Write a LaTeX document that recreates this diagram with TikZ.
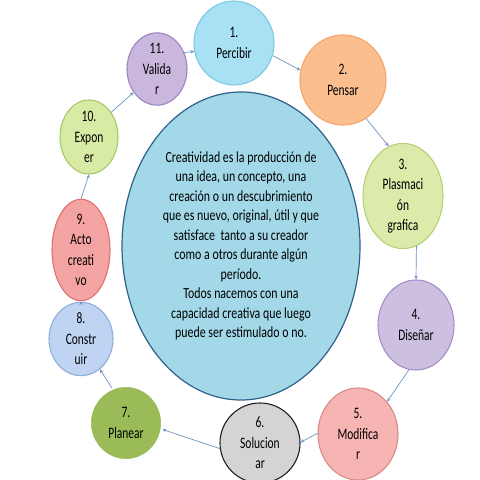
\documentclass[tikz,border=0pt]{standalone}
\usepackage{fontspec}
\setmainfont{Carlito}
\newfontfamily\textoalto[FakeStretch=0.77]{Carlito}
\newfontfamily\etapaalta[FakeStretch=0.72]{Carlito}
\usetikzlibrary{shapes.geometric,shadows}
\definecolor{flecha}{HTML}{6F93C0}
\definecolor{centro}{HTML}{A3D8E8}
\definecolor{bordecentro}{HTML}{2F5F8A}
\definecolor{celeste}{HTML}{A7E1F3}   \definecolor{bceleste}{HTML}{7FC9E3}
\definecolor{naranja}{HTML}{FBBF8F}   \definecolor{bnaranja}{HTML}{F5A46A}
\definecolor{limon}{HTML}{DCEBAA}     \definecolor{blimon}{HTML}{B5CF7A}
\definecolor{lila}{HTML}{CDBFE0}      \definecolor{blila}{HTML}{A48EC4}
\definecolor{rosa}{HTML}{F6B4B2}      \definecolor{brosa}{HTML}{D88A88}
\definecolor{gris}{HTML}{D4D4D4}      \definecolor{bgris}{HTML}{202020}
\definecolor{oliva}{HTML}{9BBB59}
\definecolor{azulito}{HTML}{BFD4F2}   \definecolor{bazulito}{HTML}{8EAEDC}
\definecolor{coral}{HTML}{F3A3A1}     \definecolor{bcoral}{HTML}{E07070}
\definecolor{verdecito}{HTML}{D8EBA5} \definecolor{bverdecito}{HTML}{A8C86A}
\definecolor{violeta}{HTML}{C9B7DD}   \definecolor{bvioleta}{HTML}{9E86C0}
\begin{document}
\begin{tikzpicture}[x=1bp, y=-1bp,
    etapa/.style={ellipse, inner sep=0pt, line width=1.1bp, align=center,
        font=\etapaalta\fontsize{16}{20.5}\selectfont},
    flechita/.style={->, >=stealth, color=flecha, line width=0.7bp}]
        \useasboundingbox (0,0) rectangle (480,480);

        \node[ellipse, draw=bordecentro, fill=centro, line width=1.2bp,
            minimum width=238bp, minimum height=308bp, align=center,
            font=\textoalto\fontsize{15.5}{19.6}\selectfont] (idea) at (241,246)
            {Creatividad es la producción de\\una idea, un concepto, una\\creación o un descubrimiento\\que es nuevo, original, útil y que\\satisface\ \ tanto a su creador\\como a otros durante algún\\período.\\Todos nacemos con una\\capacidad creativa que luego\\puede ser estimulado o no.};

        \node[etapa, draw=bceleste, fill=celeste, minimum width=80bp, minimum height=84bp] (percibir) at (234,43) {1.\\Percibir};
        \node[etapa, draw=bnaranja, fill=naranja, minimum width=86bp, minimum height=90bp] (pensar) at (343,80) {2.\\Pensar};
        \node[etapa, draw=blimon, fill=limon, minimum width=80bp, minimum height=94bp] (plasmar) at (403,196) {3.\\Plasmaci\\ón\\grafica};
        \node[etapa, draw=blila, fill=lila, minimum width=76bp, minimum height=90bp] (disenar) at (416,325) {4.\\Diseñar};
        \node[etapa, draw=brosa, fill=rosa, minimum width=80bp, minimum height=92bp] (modificar) at (358,434) {5.\\Modifica\\r};
        \node[etapa, draw=bgris, fill=gris, minimum width=80bp, minimum height=80bp] (solucionar) at (260,443) {6.\\Solucion\\ar};
        \node[etapa, draw=white, fill=oliva, line width=2bp, drop shadow={opacity=0.25, shadow xshift=0.5bp, shadow yshift=-1bp},
            minimum width=72bp, minimum height=74bp] (planear) at (126,423) {7.\\Planear};
        \node[etapa, draw=bazulito, fill=azulito, minimum width=64bp, minimum height=72bp] (construir) at (81,339) {8.\\Constr\\uir};
        \node[etapa, draw=bcoral, fill=coral, minimum width=58bp, minimum height=72bp] (acto) at (81,250) {9.\\Acto\\creati\\vo};
        \node[etapa, draw=bverdecito, fill=verdecito, minimum width=58bp, minimum height=74bp] (exponer) at (89,137) {10.\\Expon\\er};
        \node[etapa, draw=bvioleta, fill=violeta, minimum width=60bp, minimum height=62bp] (validar) at (157,69) {11.\\Valida\\r};

        % ciclo
        \draw[flechita] (validar.31) -- (percibir.192);
        \draw[flechita] (percibir.342) -- (pensar.167);
        \draw[flechita] (pensar.301) -- (plasmar.106);
        \draw[flechita] (plasmar.285) -- (disenar.north);
        \draw[flechita] (disenar.261) -- (modificar.48);
        \draw[flechita] (modificar.179) -- (solucionar.1);
        \draw[flechita] (solucionar.188) -- (planear.350);
        \draw[flechita] (planear.112) -- (construir.302);
        \draw[flechita] (construir.north) -- (acto.south);
        \draw[flechita] (acto.north) -- (exponer.south);
        \draw[flechita] (exponer.48) -- (validar.225);
    \end{tikzpicture}
\end{document}
